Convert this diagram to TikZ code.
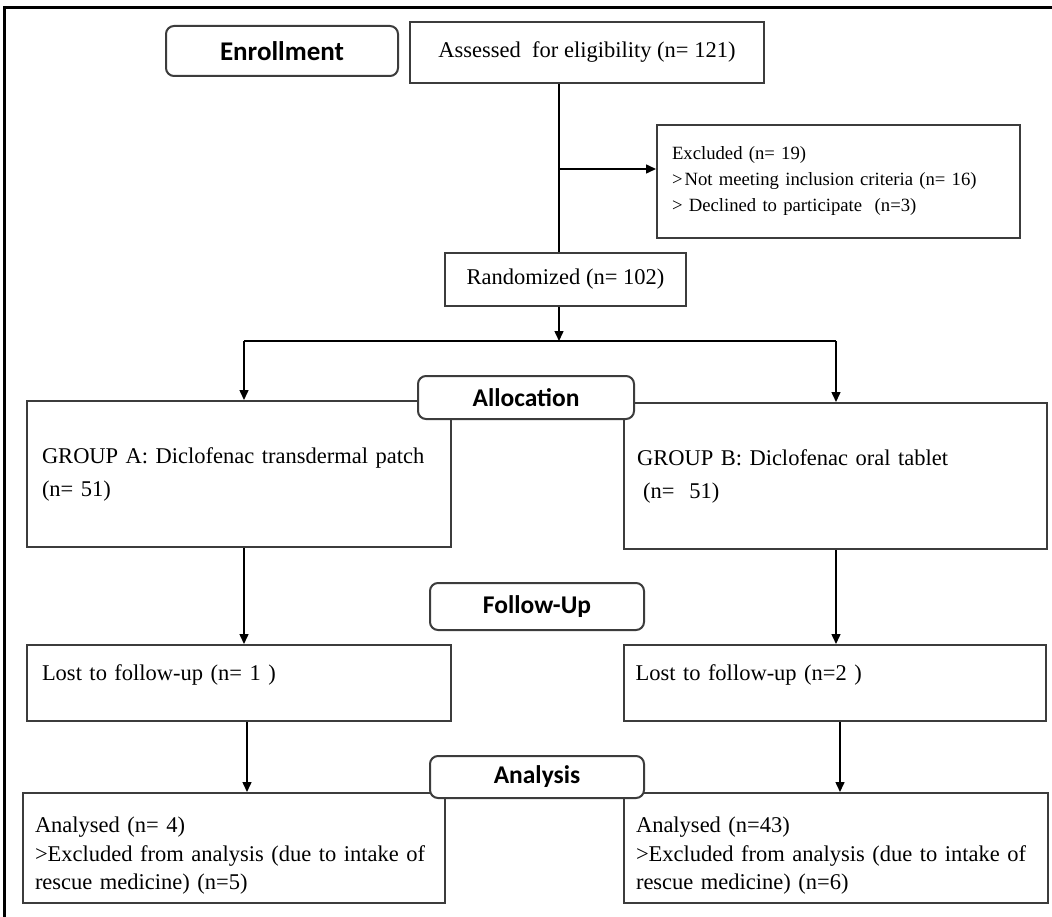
\documentclass[tikz,border=0pt]{standalone}
\usepackage{fontspec}
\setmainfont{Liberation Serif}
\newfontfamily\lblfont{Carlito}
\usetikzlibrary{arrows.meta}
\definecolor{boxgray}{RGB}{60,60,60}
\begin{document}
\begin{tikzpicture}[x=1pt,y=-1pt,
  box/.style={draw=boxgray, line width=2pt, inner sep=0pt, fill=white,
    font=\fontsize{22.5}{33}\selectfont},
  lbl/.style={draw=boxgray, line width=2pt, rounded corners=8pt, fill=white, inner sep=0pt,
    font=\lblfont\bfseries\fontsize{25.5}{28}\selectfont},
  conn/.style={line width=1.5pt, draw=black},
  arr/.style={conn, -{Triangle[width=9pt,length=10pt]}}]
\useasboundingbox (0,0) rectangle (1052,917);
\fill[white] (0,0) rectangle (1052,917);
% outer frame
\draw[line width=3pt, line cap=rect] (4.5,920) -- (4.5,7.5) -- (1055,7.5);

% boxes
\node[box, minimum width=354pt, minimum height=61pt] (ass) at (587,52.5) {Assessed\ \ for eligibility (n= 121)};
\node[box, minimum width=363pt, minimum height=113pt, text width=333pt, align=left,
  font=\fontsize{18.7}{26}\selectfont] (exc) at (838.5,181.5)
  {Excluded (n= 19)\\>\hspace{2pt}Not meeting inclusion criteria (n= 16)\\> Declined to participate\ \ (n=3)};
\node[box, minimum width=241pt, minimum height=53pt] (rand) at (565.5,279.5) {Randomized (n= 102)};
\node[box, minimum width=424pt, minimum height=146pt, text width=394pt, align=left] (gA) at (239,474)
  {GROUP A: Diclofenac transdermal patch\\(n= 51)};
\node[box, minimum width=423pt, minimum height=146pt, text width=397pt, align=left] (gB) at (835.5,476)
  {GROUP B: Diclofenac oral tablet\\\hspace*{6pt}(n=~ 51)};
\node[box, minimum width=424pt, minimum height=76pt, text width=394pt, align=left] (lostA) at (239,683)
  {Lost to follow-up (n= 1 )\rule[-20pt]{0pt}{20pt}};
\node[box, minimum width=422pt, minimum height=76pt, text width=399pt, align=left] (lostB) at (835,683)
  {Lost to follow-up (n=2 )\rule[-20pt]{0pt}{20pt}};
\node[box, minimum width=422pt, minimum height=110pt, text width=398pt, align=left,
  font=\fontsize{22.5}{28.5}\selectfont] (anA) at (234,848)
  {\rule{0pt}{31pt}Analysed (n= 4)\\>Excluded from analysis (due to intake of\\rescue medicine) (n=5)};
\node[box, minimum width=424pt, minimum height=110pt, text width=400pt, align=left,
  font=\fontsize{22.5}{28.5}\selectfont] (anB) at (836,848)
  {\rule{0pt}{31pt}Analysed (n=43)\\>Excluded from analysis (due to intake of\\rescue medicine) (n=6)};

% stage labels
\node[lbl, minimum width=232pt, minimum height=50pt, font=\lblfont\bfseries\fontsize{27}{30}\selectfont] (enr) at (282,51) {Enrollment};
\node[lbl, minimum width=216pt, minimum height=43pt] (alloc) at (526,397.5) {Allocation};
\node[lbl, minimum width=214pt, minimum height=47pt] (fu) at (537,606.5) {Follow-Up};
\node[lbl, minimum width=214pt, minimum height=42pt] (ana) at (537,777) {Analysis};

% connectors
\coordinate (sp) at (559,169);
\coordinate (bm) at (559,341);
\coordinate (bl) at (244,341);
\coordinate (br) at (836,341);
\coordinate (al) at (247,760);
\coordinate (ar) at (840,760);
\draw[conn] (ass.south -| sp) -- (rand.north -| sp);
\draw[arr] (sp) -- (sp -| exc.west);
\draw[arr] (rand.south -| bm) -- (bm);
\draw[conn] (bl) -- (br);
\draw[arr] (bl) -- (bl |- gA.north);
\draw[arr] (br) -- (br |- gB.north);
\draw[arr] (gA.south -| bl) -- (lostA.north -| bl);
\draw[arr] (gB.south -| br) -- (lostB.north -| br);
\draw[arr] (lostA.south -| al) -- (anA.north -| al);
\draw[arr] (lostB.south -| ar) -- (anB.north -| ar);
\end{tikzpicture}
\end{document}
